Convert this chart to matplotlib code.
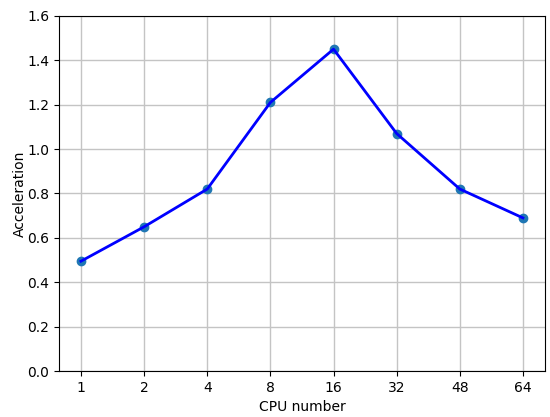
import matplotlib
matplotlib.use('Agg')
import matplotlib.pyplot as plt

cpu_labels = ['1', '2', '4', '8', '16', '32', '48', '64']
acceleration = [0.495, 0.65, 0.82, 1.21, 1.45, 1.07, 0.82, 0.69]

fig = plt.figure(figsize=(5.5, 4.17), dpi=100)
ax = fig.add_axes([0.107, 0.110, 0.884, 0.852])

x = list(range(len(cpu_labels)))
ax.scatter(x, acceleration, color='#1f77b4', s=36, zorder=2)
ax.plot(x, acceleration, color='blue', linewidth=2, zorder=3)

ax.set_xticks(x)
ax.set_xticklabels(cpu_labels)
ax.set_ylim(0, 1.6)
ax.set_xlabel('CPU number')
ax.set_ylabel('Acceleration', labelpad=0)
ax.grid(True, color='#c4c4c4', linewidth=1)
ax.set_axisbelow(True)

fig.savefig('out.png', dpi=100)
